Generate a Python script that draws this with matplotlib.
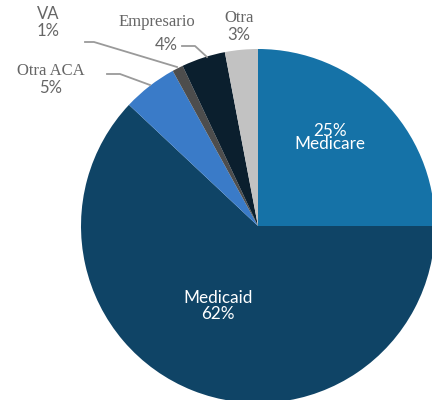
import matplotlib.pyplot as plt

# data
labels = ['Medicare', 'Medicaid', 'Otra ACA', 'VA', 'Empresario', 'Otra']
shares = [25, 62, 5, 1, 4, 3]
colors = ['#1572a7', '#0f4466', '#3a7bc8', '#4d4d4d', '#0b1f2e', '#c2c2c2']

sans = ['Lato', 'DejaVu Sans']
serif = ['Liberation Serif', 'DejaVu Serif']
grey = '#666666'

fig = plt.figure(figsize=(4.32, 4.0), dpi=100)
ax = fig.add_axes([81 / 432, -3 / 400, 354 / 432, 354 / 400])
ax.pie(shares, colors=colors, startangle=90, counterclock=False,
       radius=1, wedgeprops=dict(linewidth=0))
ax.set_xlim(-1, 1)
ax.set_ylim(-1, 1)
ax.set_aspect('equal')
ax.axis('off')

# inside labels
ax.text(0.407, 0.50, f'{shares[0]}%\n{labels[0]}', color='white', ha='center',
        va='center', fontsize=12.3, family=sans, linespacing=0.8)
ax.text(-0.226, -0.452, f'{labels[1]}\n{shares[1]}%', color='white',
        ha='center', va='center', fontsize=12.3, family=sans, linespacing=1.0)


def outside(x, y, name, pct, fam=serif):
    ax.text(x, y + 0.05, name, color=grey, ha='center', va='center',
            fontsize=12, family=fam, clip_on=False)
    ax.text(x, y - 0.045, pct, color=grey, ha='center', va='center',
            fontsize=12, family=sans, clip_on=False)


def px(x, y):
    return (x - 258) / 177, (226 - y) / 177


outside(-0.107, 1.124, labels[5], f'{shares[5]}%')
outside(-1.186, 1.147, labels[3], f'{shares[3]}%', fam=sans)
outside(-1.169, 0.825, labels[2], f'{shares[2]}%')
ax.text(-0.571, 1.152, labels[4], color=grey, ha='center', va='center',
        fontsize=12, family=serif, clip_on=False)
ax.text(-0.52, 1.023, f'{shares[4]}%', color=grey, ha='center', va='center',
        fontsize=12, family=sans, clip_on=False)

# leader lines
for pts in ([(85, 42), (94, 42), (177, 67)],
            [(107, 74), (120, 74), (150, 85)],
            [(182, 46), (195, 46), (207, 57)]):
    xs, ys = zip(*[px(a, b) for a, b in pts])
    ax.plot(xs, ys, color='#9a9a9a', lw=1.3, clip_on=False)

fig.savefig('out.png', dpi=100)
